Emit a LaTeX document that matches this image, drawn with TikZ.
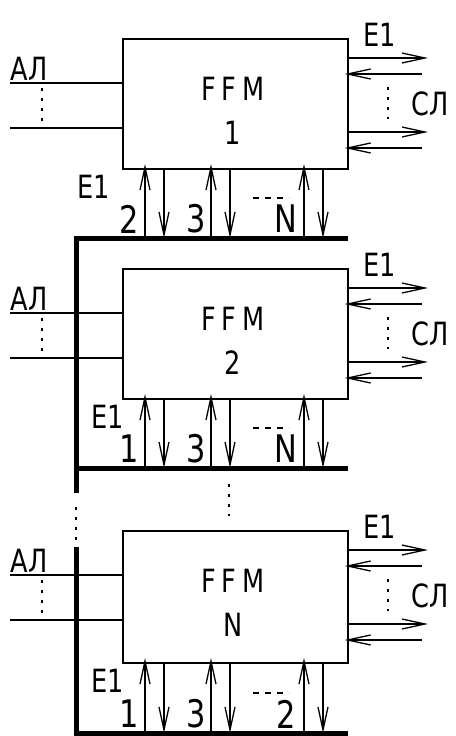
\documentclass[tikz,border=0pt]{standalone}
\usepackage{fontspec}
\setmainfont{DejaVu Sans}[FakeStretch=0.8]
\usetikzlibrary{arrows.meta}
\tikzset{
 box/.style={draw, line width=1.6pt, inner sep=0pt, anchor=north west, minimum width=225pt},
 thin/.style={line width=1.3pt},
 ar/.style={thin, -{Straight Barb[length=23pt,width=10pt]}},
 arin/.style={ar, shorten >=-4pt},
 bus/.style={line width=5pt},
 lbl/.style={font=\fontsize{32}{33}\selectfont, inner sep=0pt},
 num/.style={font=\fontsize{38}{39}\selectfont, inner sep=0pt},
 dots/.style={line width=1.5pt, dash pattern=on 3pt off 7pt},
 dashes/.style={line width=1.4pt, dash pattern=on 6pt off 6pt},
}
\begin{document}
\begin{tikzpicture}[x=1pt,y=-1pt]
\useasboundingbox (0,0) rectangle (455,736);
\foreach \n/\T/\B/\Y/\ex/\c/\d in {1/38/168/238/94/2/N, 2/268/398/468/108/1/N, N/530/662/733/108/1/2} {
  \pgfmathsetmacro{\H}{\B-\T}
  \node[box, minimum height=\H pt] (b\n) at (122,\T) {};
  \node[lbl] (ffm\n) at (233,\T+51) {F\hspace{6pt}F\hspace{6pt}M};
  \node[lbl] (no\n) at (233,\T+95) {\n};
  % left inputs
  \node[lbl] (al\n) at (29,\T+31) {АЛ};
  \coordinate (la\n) at (10,\T+45);
  \coordinate (lb\n) at (10,\T+90);
  \draw[thin] (la\n) -- (la\n -| b\n.west);
  \draw[thin] (lb\n) -- (lb\n -| b\n.west);
  \draw[dots] (42,\T+50) -- (42,\T+84);
  % right
  \node[lbl] (er\n) at (380,\T-3) {E1};
  \node[lbl] (sl\n) at (430,\T+66) {СЛ};
  \coordinate (ro1\n) at (428,\T+20);
  \coordinate (ri1\n) at (422,\T+36);
  \coordinate (ro2\n) at (428,\T+94);
  \coordinate (ri2\n) at (422,\T+110);
  \draw[ar] (ro1\n -| b\n.east) -- (ro1\n);
  \draw[arin] (ri1\n) -- (ri1\n -| b\n.east);
  \draw[ar] (ro2\n -| b\n.east) -- (ro2\n);
  \draw[arin] (ri2\n) -- (ri2\n -| b\n.east);
  \draw[dots] (388,\T+49) -- (388,\T+81);
  % bus
  \coordinate (busl\n) at (73.5,\Y);
  \coordinate (busr\n) at (348,\Y);
  \draw[bus] (busl\n) -- (busr\n);
  \foreach \xu in {145,211,304} {
    \pgfmathsetmacro{\xd}{\xu+19}
    \draw[arin] (\xu,\Y) -- (\xu,\B);
    \draw[ar] (\xd,\B) -- (\xd,\Y);
  }
  \node[lbl] (eb\n) at (\ex,\B+19) {E1};
  \node[num] (c\n) at (129,\Y-19) {\c};
  \node[num] (t\n) at (196,\Y-19) {3};
  \node[num] (d\n) at (286,\Y-19) {\d};
  \draw[dashes] (253,\Y-40) -- (289,\Y-40);
}
% vertical bus
\coordinate (v0) at (76,238);
\coordinate (v1) at (76,493);
\coordinate (v2) at (76,547);
\coordinate (v3) at (76,736);
\draw[bus] (v0) -- (v1);
\draw[dots] (76,507) -- (76,540);
\draw[bus] (v2) -- (v3);
\draw[dots] (229,484) -- (229,516);
\end{tikzpicture}
\end{document}
